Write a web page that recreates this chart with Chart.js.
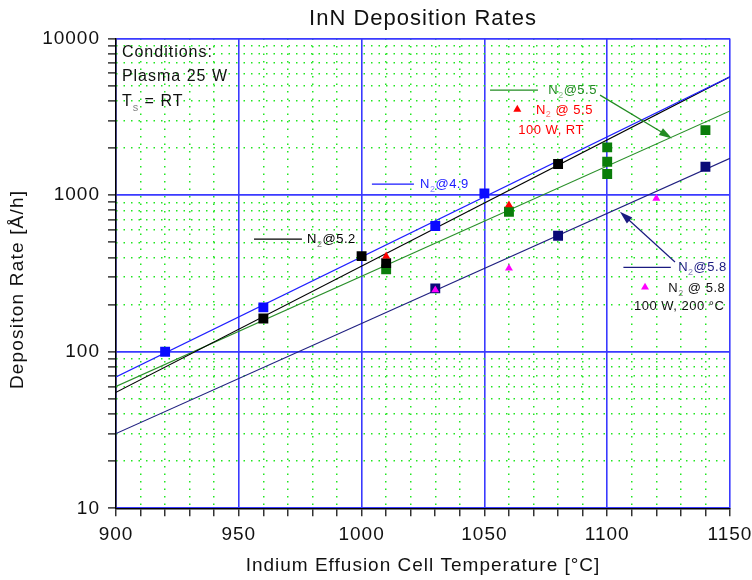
<!DOCTYPE html>
<html>
<head>
<meta charset="utf-8">
<script src="https://cdn.jsdelivr.net/npm/chart.js@4.4.1/dist/chart.umd.min.js"></script>
<style>
  html, body { margin: 0; padding: 0; background: #fff; }
  #wrap { width: 752px; height: 580px; }
</style>
</head>
<body>
<div id="wrap"><canvas id="grafica" width="752" height="580"></canvas></div>
<script>
// datos
var tempN49 = [920, 960, 1030, 1050];
var tasaN49 = [100, 192, 635, 1027];

var tempN52 = [960, 1000, 1010, 1080];
var tasaN52 = [163, 408, 368, 1580];

var tempN55 = [1010, 1060, 1100, 1100, 1100, 1140];
var tasaN55 = [336, 783, 2019, 1634, 1364, 2604];

var tempN55rf = [1010, 1060];
var tasaN55rf = [408, 865];

var tempN58 = [1030, 1080, 1140];
var tasaN58 = [254, 550, 1518];

var tempN58rf = [1030, 1060, 1120];
var tasaN58rf = [248, 341, 954];

// rectas de ajuste (extremos)
var tempAjuste = [900, 1150];
var ajusteN49 = [69, 5700];
var ajusteN52 = [55, 5700];
var ajusteN55 = [60, 3450];
var ajusteN58 = [30, 1720];

// ejes
var xEtiquetas = [900, 950, 1000, 1050, 1100, 1150];
var yDecadas = [10, 100, 1000, 10000];
var yPasos = [2, 3, 4, 5, 6, 7, 8, 9];

var yTicks = [];
yDecadas.forEach(function (d, i) {
  yTicks.push(d);
  if (i < yDecadas.length - 1) yPasos.forEach(function (p) { yTicks.push(d * p); });
});

var FUENTE = '"Liberation Sans", Arial, sans-serif';
var AZUL_GRID = '#3a3aff';
var VERDE_GRID = '#22e622';

function puntos(xs, ys) {
  return xs.map(function (x, i) { return { x: x, y: ys[i] }; });
}

function serie(xs, ys, color, estilo, radio, orden) {
  return {
    data: puntos(xs, ys),
    backgroundColor: color,
    borderColor: color,
    borderWidth: 0,
    pointStyle: estilo,
    pointRadius: radio,
    showLine: false,
    order: orden
  };
}

function recta(ys, color) {
  return {
    data: puntos(tempAjuste, ys),
    borderColor: color,
    backgroundColor: color,
    borderWidth: 1.1,
    pointRadius: 0,
    showLine: true,
    fill: false,
    order: 10
  };
}

// texto con subindice: '_' marca el siguiente caracter
function pintarTexto(ctx, s, x, y, size, color, esp) {
  ctx.save();
  ctx.fillStyle = color;
  ctx.textBaseline = 'middle';
  ctx.textAlign = 'left';
  ctx.letterSpacing = esp + 'px';
  var i = 0;
  while (i < s.length) {
    if (s[i] === '_') {
      ctx.font = Math.round(size * 0.7) + 'px ' + FUENTE;
      ctx.globalAlpha = 0.55;
      ctx.fillText(s[i + 1], x, y + size * 0.38);
      x += ctx.measureText(s[i + 1]).width;
      ctx.globalAlpha = 1;
      i += 2;
    } else {
      var j = s.indexOf('_', i);
      if (j < 0) j = s.length;
      var trozo = s.slice(i, j);
      ctx.font = size + 'px ' + FUENTE;
      ctx.fillText(trozo, x, y);
      x += ctx.measureText(trozo).width;
      i = j;
    }
  }
  ctx.restore();
}

function flecha(ctx, x1, y1, x2, y2, color) {
  var a = Math.atan2(y2 - y1, x2 - x1);
  var c = Math.cos(a), s = Math.sin(a);
  ctx.save();
  ctx.strokeStyle = color;
  ctx.fillStyle = color;
  ctx.lineWidth = 1.2;
  ctx.beginPath();
  ctx.moveTo(x1, y1);
  ctx.lineTo(x2 - 8 * c, y2 - 8 * s);
  ctx.stroke();
  ctx.beginPath();
  ctx.moveTo(x2, y2);
  ctx.lineTo(x2 - 13 * c + 4 * s, y2 - 13 * s - 4 * c);
  ctx.lineTo(x2 - 13 * c - 4 * s, y2 - 13 * s + 4 * c);
  ctx.closePath();
  ctx.fill();
  ctx.restore();
}

function triangulo(ctx, x, y, r, color) {
  ctx.save();
  ctx.fillStyle = color;
  ctx.beginPath();
  ctx.moveTo(x, y - r);
  ctx.lineTo(x + r * 0.866, y + r * 0.5);
  ctx.lineTo(x - r * 0.866, y + r * 0.5);
  ctx.closePath();
  ctx.fill();
  ctx.restore();
}

// notas: posiciones en unidades de datos
var notasTexto = [
  { x: 902.4, y: 8200, t: 'Conditions:', c: '#111', s: 16, e: 1 },
  { x: 902.4, y: 5700, t: 'Plasma 25 W', c: '#111', s: 16, e: 1 },
  { x: 902.4, y: 3950, t: 'T_s = RT', c: '#111', s: 16, e: 1 },
  { x: 1071, y: 3496, t: 'N_2 @ 5.5', c: '#ff0000', s: 13, e: 0.5 },
  { x: 1063.8, y: 2604, t: '100 W, RT', c: '#ff0000', s: 13, e: 0.5 },
  { x: 1124.9, y: 255, t: 'N_2 @ 5.8', c: '#111', s: 13, e: 0.5 },
  { x: 1110.9, y: 194, t: '100 W, 200 °C', c: '#111', s: 13, e: 0.5 }
];
var notasClave = [
  { x1: 956.2, x2: 975.7, y: 524, tx: 977.8, t: 'N_2@5.2', c: '#000000' },
  { x1: 1004.2, x2: 1021.3, y: 1177, tx: 1023.8, t: 'N_2@4.9', c: '#1a1aff' },
  { x1: 1052.3, x2: 1071.8, y: 4688, tx: 1076, t: 'N_2@5.5', c: '#228b22' },
  { x1: 1106.6, x2: 1125.9, y: 346, tx: 1128.9, t: 'N_2@5.8', c: '#1a1a80' }
];
var notasTriangulo = [
  { x: 1063.4, y: 3532, c: '#ff0000' },
  { x: 1115.4, y: 258, c: '#ff00ff' }
];
var notasFlecha = [
  { x1: 1097.1, y1: 4355, x2: 1126.4, y2: 2305, c: '#228b22' },
  { x1: 1127.6, y1: 374, x2: 1105.2, y2: 783, c: '#1a1a80' }
];

var espaciado = {
  id: 'espaciado',
  beforeDraw: function (chart) { chart.ctx.letterSpacing = '1px'; }
};

var notas = {
  id: 'notas',
  afterDatasetsDraw: function (chart) {
    var ctx = chart.ctx;
    var sx = chart.scales.x, sy = chart.scales.y;
    var X = function (v) { return sx.getPixelForValue(v); };
    var Y = function (v) { return sy.getPixelForValue(v); };

    notasClave.forEach(function (n) {
      ctx.save();
      ctx.strokeStyle = n.c;
      ctx.lineWidth = 1.2;
      ctx.beginPath();
      ctx.moveTo(X(n.x1), Y(n.y));
      ctx.lineTo(X(n.x2), Y(n.y));
      ctx.stroke();
      ctx.restore();
      pintarTexto(ctx, n.t, X(n.tx), Y(n.y), 13, n.c, 0.5);
    });
    notasTriangulo.forEach(function (n) { triangulo(ctx, X(n.x), Y(n.y), 4.6, n.c); });
    notasTexto.forEach(function (n) { pintarTexto(ctx, n.t, X(n.x), Y(n.y), n.s, n.c, n.e); });
    notasFlecha.forEach(function (n) { flecha(ctx, X(n.x1), Y(n.y1), X(n.x2), Y(n.y2), n.c); });

    // titulo del eje y
    var area = chart.chartArea;
    ctx.save();
    ctx.translate(18, (area.top + area.bottom) / 2 + 16);
    ctx.rotate(-Math.PI / 2);
    ctx.letterSpacing = '1.2px';
    ctx.font = '19px ' + FUENTE;
    ctx.fillStyle = '#111';
    ctx.textAlign = 'center';
    ctx.textBaseline = 'middle';
    ctx.fillText('Depositon Rate [Å/h]', 0, 0);
    ctx.restore();
  }
};

function ponerTicksY(scale) {
  scale.ticks = yTicks.map(function (v) { return { value: v }; });
}

var chart = new Chart(document.getElementById('grafica'), {
  type: 'scatter',
  data: {
    datasets: [
      serie(tempN55rf, tasaN55rf, '#ff0000', 'triangle', 4.6, 1),
      serie(tempN58rf, tasaN58rf, '#ff00ff', 'triangle', 4.6, 1),
      serie(tempN49, tasaN49, '#0a0aff', 'rect', 7, 2),
      serie(tempN52, tasaN52, '#000000', 'rect', 7, 3),
      serie(tempN58, tasaN58, '#0a0a78', 'rect', 7, 3),
      serie(tempN55, tasaN55, '#0a7d0a', 'rect', 7, 4),
      recta(ajusteN49, '#2020ff'),
      recta(ajusteN52, '#000000'),
      recta(ajusteN55, '#2a8f2a'),
      recta(ajusteN58, '#202080')
    ]
  },
  options: {
    responsive: false,
    animation: false,
    devicePixelRatio: 1,
    layout: { padding: { top: 0, right: 22, bottom: 0, left: 0 } },
    plugins: {
      legend: { display: false },
      tooltip: { enabled: false },
      title: {
        display: true,
        text: 'InN Deposition Rates',
        fullSize: false,
        color: '#111',
        font: { family: FUENTE, size: 22, weight: 'normal' },
        padding: { top: 6, bottom: 6.2 }
      }
    },
    scales: {
      x: {
        type: 'linear',
        position: 'bottom',
        min: 900,
        max: 1150,
        afterFit: function (s) { s.height = 71.7; s.paddingLeft = 0; s.paddingRight = 0; },
        ticks: {
          stepSize: 10,
          autoSkip: false,
          maxRotation: 0,
          padding: 7,
          color: '#111',
          font: { family: FUENTE, size: 19 },
          callback: function (v) { return xEtiquetas.indexOf(v) >= 0 ? String(v) : ''; }
        },
        grid: {
          color: function (c) { return c.tick && xEtiquetas.indexOf(c.tick.value) >= 0 ? AZUL_GRID : 'rgba(0,0,0,0)'; },
          lineWidth: 1.6,
          tickColor: '#000',
          tickLength: 8,
          tickWidth: 1.2
        },
        border: { display: true, color: '#000', width: 1.5 },
        title: {
          display: true,
          text: 'Indium Effusion Cell Temperature [°C]',
          color: '#111',
          font: { family: FUENTE, size: 19 },
          padding: { top: 0, bottom: 3 }
        }
      },
      x2: {
        type: 'linear',
        position: 'bottom',
        min: 900,
        max: 1150,
        afterFit: function (s) { s.height = 0; s.paddingLeft = 0; s.paddingRight = 0; },
        ticks: { display: false, stepSize: 10, autoSkip: false },
        grid: {
          z: -1,
          drawTicks: false,
          lineWidth: 1.5,
          color: function (c) { return c.tick && xEtiquetas.indexOf(c.tick.value) < 0 ? VERDE_GRID : 'rgba(0,0,0,0)'; }
        },
        border: { display: false, dash: [1.5, 6] }
      },
      y: {
        type: 'logarithmic',
        position: 'left',
        min: 10,
        max: 10000,
        afterBuildTicks: ponerTicksY,
        afterFit: function (s) { s.width = 116; s.paddingTop = 0; s.paddingBottom = 0; },
        ticks: {
          autoSkip: false,
          padding: 8,
          color: '#111',
          font: { family: FUENTE, size: 19 },
          callback: function (v) { return yDecadas.indexOf(v) >= 0 ? String(v) : ''; }
        },
        grid: {
          color: function (c) { return c.tick && yDecadas.indexOf(c.tick.value) >= 0 ? AZUL_GRID : 'rgba(0,0,0,0)'; },
          lineWidth: 1.8,
          tickColor: '#000',
          tickLength: 8,
          tickWidth: 1.2
        },
        border: { display: true, color: '#000', width: 1.5 }
      },
      y2: {
        type: 'logarithmic',
        position: 'left',
        min: 10,
        max: 10000,
        afterBuildTicks: ponerTicksY,
        afterFit: function (s) { s.width = 0; s.paddingTop = 0; s.paddingBottom = 0; },
        ticks: { display: false, autoSkip: false },
        grid: {
          z: -1,
          drawTicks: false,
          lineWidth: 1.5,
          color: function (c) { return c.tick && yDecadas.indexOf(c.tick.value) < 0 ? VERDE_GRID : 'rgba(0,0,0,0)'; }
        },
        border: { display: false, dash: [1.5, 6] }
      }
    }
  },
  plugins: [espaciado, notas]
});
</script>
</body>
</html>
